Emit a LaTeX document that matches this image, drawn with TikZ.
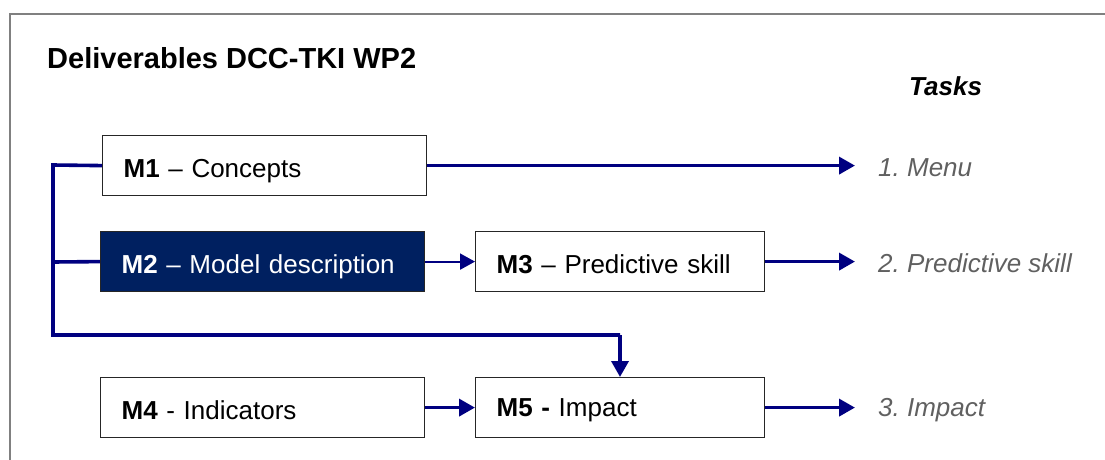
\documentclass[tikz,border=0pt]{standalone}
\usepackage{fontspec}
\setmainfont{Liberation Sans}
\usetikzlibrary{arrows.meta}
\definecolor{navyl}{HTML}{000080}
\definecolor{navyf}{HTML}{002060}
\definecolor{taskgray}{HTML}{606060}
\definecolor{framegray}{HTML}{808080}
\frenchspacing
\begin{document}
\begin{tikzpicture}[x=1pt,y=-1pt,
  box/.style={draw=black!85, line width=1.2pt, fill=white, minimum height=60pt,
    inner xsep=21pt, inner ysep=0pt, align=left, anchor=north west,
    text height=24pt, text depth=0pt, font=\fontsize{26}{30}\selectfont},
  darkbox/.style={box, fill=navyf, text=white},
  task/.style={anchor=base west, inner sep=0pt, text=taskgray,
    font=\fontsize{26}{30}\selectfont\itshape},
  thickline/.style={draw=navyl, line width=3.6pt},
  thinline/.style={draw=navyl, line width=2pt},
  tip/.style={-{Triangle[length=16pt,width=17pt]}},
  thintip/.style={-{Triangle[length=15pt,width=16pt]}}]
\useasboundingbox (0,0) rectangle (1105,460);
\draw[framegray, line width=2pt] (9.5,460) -- (9.5,14) -- (1105,14);

\node[anchor=base west, inner sep=0pt, font=\fontsize{29}{34}\selectfont\bfseries] (title) at (47,68) {Deliverables DCC-TKI WP2};
\node[anchor=base west, inner sep=0pt, font=\fontsize{26}{30}\selectfont\bfseries\itshape] (tasks) at (909,95) {Tasks};

\node[box, text width=282pt] (m1) at (102,135) {\textbf{M1} – Concepts};
\node[darkbox, text width=282pt] (m2) at (100,231) {\textbf{M2} – Model description};
\node[box, text width=247pt] (m3) at (475,231) {\textbf{M3} – Predictive skill};
\node[box, text width=282pt] (m4) at (100,377) {\textbf{M4} - Indicators};
\node[box, text width=247pt, text height=18pt] (m5) at (475,377) {\textbf{M5 -} Impact};

\node[task] (t1) at (878,176) {1. Menu};
\node[task] (t2) at (878,272) {2. Predictive skill};
\node[task] (t3) at (878,416) {3. Impact};

\coordinate (j1) at (53,165);
\coordinate (j2) at (53,262);
\coordinate (j3) at (53,335);
\coordinate (j4) at (620,335);

\draw[thickline, line join=miter] (m1.west) -- (j1) -- (j3) -- (j4);
\draw[thickline, tip] (j4) -- (j4 |- m5.north);
\draw[thickline] (m2.west) -- (j2);
\draw[thinline, thintip] (m2.east) -- (m3.west);
\draw[thickline, tip] (m4.east) -- (m5.west);

\draw[thickline, tip, shorten >=23pt] (m1.east) -- (m1.east -| t1.west);
\draw[thickline, tip, shorten >=23pt] (m3.east) -- (m3.east -| t2.west);
\draw[thickline, tip, shorten >=23pt] (m5.east) -- (m5.east -| t3.west);
\end{tikzpicture}
\end{document}
